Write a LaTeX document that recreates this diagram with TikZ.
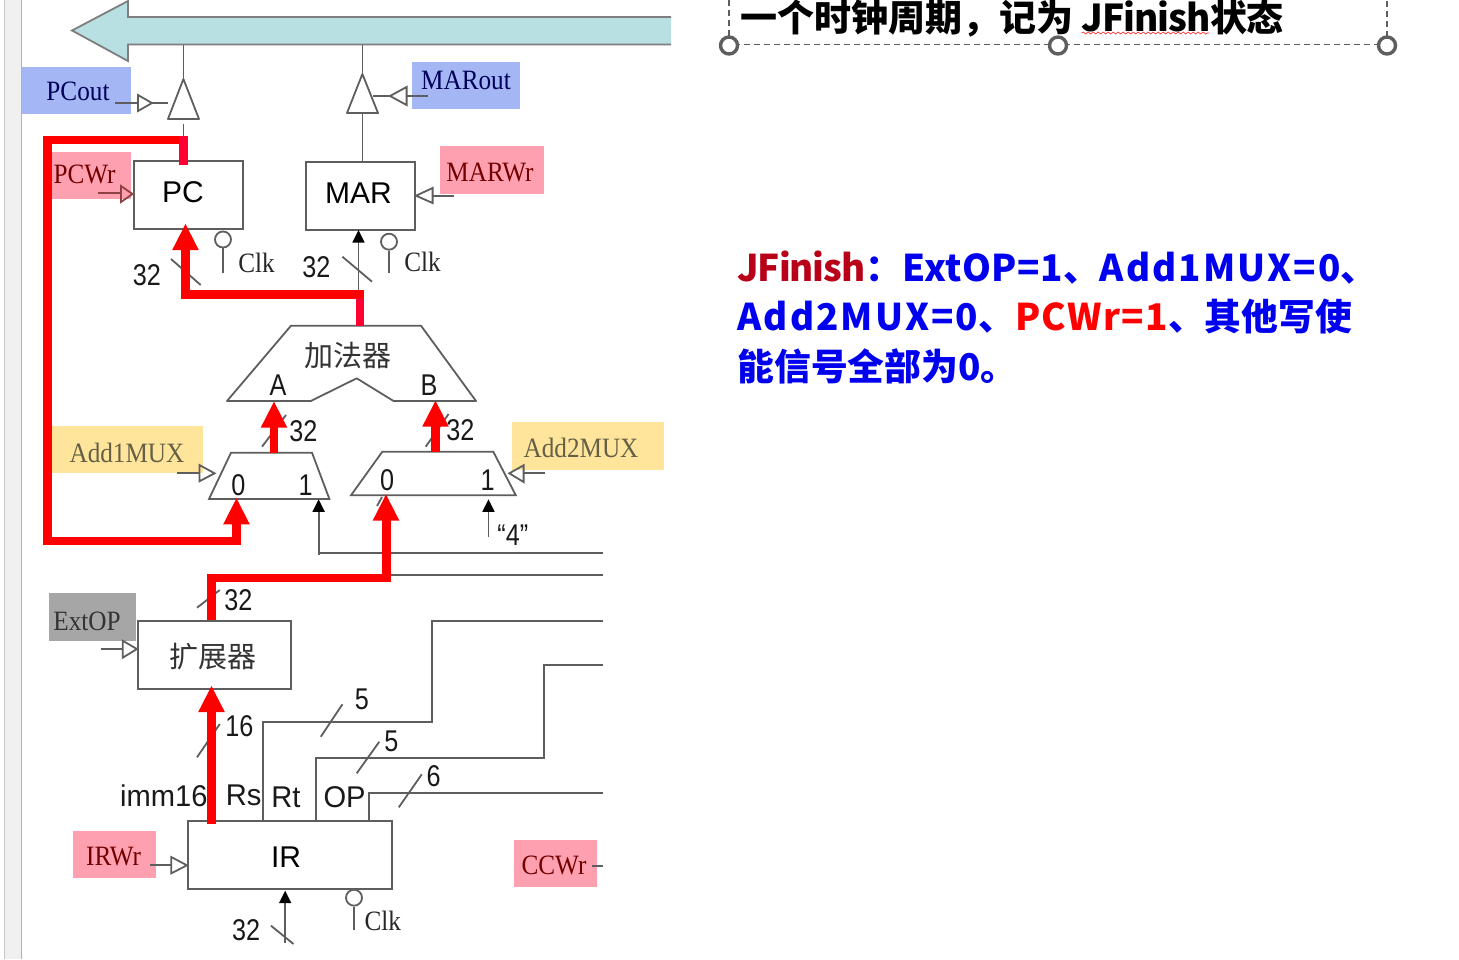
\documentclass[tikz,border=0pt]{standalone}
\usepackage{fontspec}
\setmainfont{Liberation Sans}
\newfontfamily\labelserif[FakeStretch=0.9]{Liberation Serif}
\newfontfamily\digitsans[FakeStretch=0.84]{Liberation Sans}
\newfontfamily\fieldsans[FakeStretch=0.97]{Liberation Sans}
\newfontfamily\cjk{Noto Sans CJK SC}
\usetikzlibrary{decorations.pathmorphing}
\definecolor{wire}{HTML}{5E5E5E}
\definecolor{busfill}{HTML}{B8E0E2}
\definecolor{sigblue}{HTML}{A4B7F4}
\definecolor{sigpink}{HTML}{FFA0B0}
\definecolor{sigyellow}{HTML}{FFE49C}
\definecolor{siggray}{HTML}{A6A6A6}
\definecolor{hot}{HTML}{FF0000}
\definecolor{crim}{HTML}{FF0033}
\definecolor{deepred}{HTML}{B80018}
\definecolor{bodyblue}{HTML}{0000EE}
\tikzset{
  thin wire/.style={draw=wire,line width=.9pt},
  signal/.style={thin wire},
  block/.style={draw=wire,line width=1pt,fill=white,inner sep=0pt},
  num/.style={inner sep=0pt,font=\digitsans\fontsize{15}{15}\selectfont,text=black!90},
  field/.style={inner sep=0pt,font=\fieldsans\fontsize{15}{15}\selectfont,text=black!90},
  regname/.style={inner sep=0pt,font=\fontsize{15}{15}\selectfont,text=black},
  serif/.style={inner sep=0pt,font=\labelserif\fontsize{14}{14}\selectfont},
  sigbox/.style={inner sep=0pt},
  clkring/.style={circle,draw=wire,line width=.9pt,minimum size=8pt,inner sep=0pt,fill=white},
  redpath/.style={draw=hot,line width=4.4pt,line join=miter,line cap=butt},
  crimpath/.style={draw=crim,line width=4.4pt,line cap=butt},
  grip/.style={circle,draw=wire,line width=1.7pt,fill=white,minimum size=8.5pt,inner sep=0pt},
  frame/.style={draw=wire,line width=.7pt,densely dashed},
  headline/.style={anchor=base west,inner sep=0pt,font=\cjk\bfseries\fontsize{18.5}{18.5}\selectfont},
  bodyline/.style={anchor=base west,inner sep=0pt,text=bodyblue,font=\cjk\bfseries\fontsize{18.4}{18.4}\selectfont},
}
% filled red arrow tip, tip point at #1
\newcommand{\redtip}[1]{\fill[hot] (#1) -- ++(-13.3,26) -- ++(26.6,0) -- cycle;}
% small solid black arrow tip, tip point at #1
\newcommand{\blacktip}[1]{\fill[black] (#1) -- ++(-6.2,12.5) -- ++(12.4,0) -- cycle;}
% run of text with adjusted letter spacing
\newcommand{\spaced}[2]{{\addfontfeature{LetterSpace=#1}#2}}
\begin{document}
\begin{tikzpicture}[x=.5pt,y=-.5pt]
\clip (0,0) rectangle (1459,959);
\fill[white] (0,0) rectangle (1459,959);

% slide panel edge
\fill[black!6] (4,0) rectangle (21.5,959);
\draw[black!22,line width=.5pt] (4,0) -- (4,959);
\draw[black!30,line width=.6pt] (21.5,0) -- (21.5,959);

% shared bus
\draw[fill=busfill,draw=wire!80,line width=.9pt]
  (671,17) -- (128,17) -- (128,1) -- (72,30.5) -- (128,61) -- (128,44.5) -- (671,44.5);

% signal label backgrounds
\node[sigbox,fill=sigblue,minimum width=54.7pt,minimum height=23.5pt] (pcoutbg) at (76.4,90.5) {};
\node[sigbox,fill=sigblue,minimum width=54.1pt,minimum height=23.3pt] (maroutbg) at (466,85.3) {};
\node[sigbox,fill=sigpink,minimum width=39.5pt,minimum height=23.5pt] (pcwrbg) at (91.5,175.5) {};
\node[sigbox,fill=sigpink,minimum width=52pt,minimum height=23.8pt] (marwrbg) at (492.4,169.8) {};
\node[sigbox,fill=sigyellow,minimum width=75.5pt,minimum height=23.3pt] (add1bg) at (127.5,449.3) {};
\node[sigbox,fill=sigyellow,minimum width=75.8pt,minimum height=23.8pt] (add2bg) at (587.8,445.8) {};
\node[sigbox,fill=siggray,minimum width=43.5pt,minimum height=23.7pt] (extbg) at (92.5,617) {};
\node[sigbox,fill=sigpink,minimum width=41.6pt,minimum height=23.3pt] (irwrbg) at (114.4,854.3) {};
\node[sigbox,fill=sigpink,minimum width=41.6pt,minimum height=23.3pt] (ccwrbg) at (555.2,863.3) {};

% signal label texts
\node[serif,text=blue!35!black] (pcoutlbl) at (78,91) {PCout};
\node[serif,text=blue!35!black] (maroutlbl) at (466,80) {MARout};
\node[serif,text=red!45!black] (pcwrlbl) at (84.5,174) {PCWr};
\node[serif,text=red!45!black] (marwrlbl) at (490,172) {MARWr};
\node[serif,text=yellow!30!black] (add1lbl) at (127,453) {Add1MUX};
\node[serif,text=yellow!30!black] (add2lbl) at (581,448) {Add2MUX};
\node[serif,text=black!80] (extlbl) at (87,621) {ExtOP};
\node[serif,text=red!45!black] (irwrlbl) at (113.6,857) {IRWr};
\node[serif,text=red!45!black] (ccwrlbl) at (554,865.7) {CCWr};

% registers and the sign extender
\node[block,minimum width=54.6pt,minimum height=34pt] (pc) at (188.1,194.7) {};
\node[regname] (pctxt) at (183,192) {PC};
\node[block,minimum width=54.7pt,minimum height=34.2pt] (mar) at (360.3,195.8) {};
\node[regname] (martxt) at (358.5,192.7) {MAR};
\node[block,minimum width=76.5pt,minimum height=34pt] (ext) at (214.4,655) {};
\node[inner sep=0pt,text=black!80,font=\cjk\fontsize{14.5}{14.5}\selectfont] (exttxt) at (213,656.7) {扩展器};
\node[block,minimum width=101.9pt,minimum height=34pt] (ir) at (289.9,855.3) {};
\node[regname] (irtxt) at (286,857.3) {IR};

% adder outline and the two multiplexers
\draw[thin wire,fill=white,line join=round] (227,401) coordinate (addl) -- (310.8,401) -- (356.7,378.3) -- (393.6,401)
  -- (476,401) coordinate (addr) -- (421,325.7) -- (291,325.7) -- cycle;
\node[inner sep=0pt,text=black!80,font=\cjk\fontsize{14.5}{14.5}\selectfont] (addtxt) at (348,355) {加法器};
\node[num] (aport) at (278,385) {A};
\node[num] (bport) at (429,385) {B};
\draw[thin wire,fill=white] (231,452.7) -- (312,452.7) -- (329.4,499) -- (209,499) -- cycle;
\node[num] (m1zero) at (238.4,485) {0};
\node[num] (m1one) at (305.6,485) {1};
\draw[thin wire,fill=white] (382.3,451.7) -- (493.3,451.7) -- (515.8,495.3) -- (351,495.3) -- cycle;
\node[num] (m2zero) at (387,480) {0};
\node[num] (m2one) at (487.6,480) {1};

% tri-state buffers onto the bus
\draw[thin wire,fill=white,line join=round] (183.4,79) coordinate (pcbufa) -- (199,119) -- (168,119) coordinate (pcbufl) -- cycle;
\draw[thin wire,fill=white,line join=round] (362.4,74) coordinate (marbufa) -- (378,113) -- (347,113) coordinate (marbufl) -- cycle;
\draw[signal] (183.4,44.5) -- (pcbufa);
\draw[signal] (362.4,44.5) -- (marbufa);
\draw[signal] (183.4,124) -- (183.4,137);
\draw[signal] (362.4,113) -- (mar.north -| 362.4,0);

% control inputs with open triangles
\draw[signal] (115,103) -- (138,103);
\draw[signal] (138,95) -- (152,103) -- (138,111) -- cycle;
\draw[signal] (152,103) -- (168,103);
\draw[signal] (428,96) -- (406.6,96);
\draw[signal] (406.6,87) -- (390,96) -- (406.6,105) -- cycle;
\draw[signal] (390,96) -- (372.8,96);
\draw[signal,draw=wire!70!red] (97.5,193) -- (121,193);
\draw[signal,draw=wire!70!red] (121,186) -- (pc.west |- 0,194) -- (121,202) -- cycle;
\draw[signal] (454,195.7) -- (432.6,195.7);
\draw[signal] (432.6,188) -- (mar.east |- 0,195.7) -- (432.6,203) -- cycle;
\draw[signal] (176.9,473.3) -- (199.4,473.3);
\draw[signal] (199.4,465) -- (214.6,473.3) -- (199.4,481.3) -- cycle;
\draw[signal] (545,473.3) -- (523.6,473.3);
\draw[signal] (523.6,465.3) -- (509.3,473.3) -- (523.6,482) -- cycle;
\draw[signal] (100.6,649) -- (122.7,649);
\draw[signal] (122.7,640.7) -- (ext.west |- 0,649) -- (122.7,657.7) -- cycle;
\draw[signal] (149.5,865.3) -- (171.2,865.3);
\draw[signal] (171.2,857) -- (ir.west |- 0,865.3) -- (171.2,873.3) -- cycle;
\draw[signal] (591.7,865.7) -- (602.5,865.7);

% clock inputs
\node[clkring] (clkpc) at (223,239.5) {};
\draw[signal] (clkpc.south) -- (223,272.7);
\node[serif,text=black!85] (clkpct) at (256.6,263) {Clk};
\node[clkring] (clkmar) at (389,241.7) {};
\draw[signal] (clkmar.south) -- (389,272.7);
\node[serif,text=black!85] (clkmart) at (422.6,262) {Clk};
\node[clkring] (clkir) at (354,897.7) {};
\draw[signal] (clkir.south) -- (354,930);
\node[serif,text=black!85] (clkirt) at (382.8,920.7) {Clk};

% plain data wires
\draw[signal] (358.5,294) -- (358.5,240);
\blacktip{358.5,230}
\draw[signal] (318.6,510) -- (318.6,555);
\blacktip{318.6,499.3}
\draw[signal] (318.6,552.7) -- (602.5,552.7);
\draw[signal] (390,574.7) -- (602.5,574.7);
\draw[signal] (488.5,510) -- (488.5,536.7);
\blacktip{488.5,499.3}
\draw[signal] (285.2,902) -- (285.2,943);
\blacktip{285.2,890.7}
\draw[signal] (ir.north -| 263,0) -- (263,722) -- (432.2,722) -- (432.2,621.3) -- (602.5,621.3);
\draw[signal] (ir.north -| 315.6,0) -- (315.6,758.3) -- (543.6,758.3) -- (543.6,665.3) -- (602.5,665.3);
\draw[signal] (ir.north -| 368.9,0) -- (368.9,792.7) -- (602.5,792.7);

% bus-width ticks
\draw[signal] (171,259) -- (200.7,285);
\draw[signal] (342.4,256.7) -- (372,281.7);
\draw[signal] (262,446.7) -- (286,415);
\draw[signal] (425.7,446.7) -- (448.6,414);
\draw[signal] (197,607.7) -- (219.8,590);
\draw[signal] (197,757.3) -- (219.8,724);
\draw[signal] (342.4,704.3) -- (320.8,736.7);
\draw[signal] (379.3,741.7) -- (356.7,773.3);
\draw[signal] (421.8,774.3) -- (398.8,807.3);
\draw[signal] (271,925.7) -- (293.5,944);
\draw[signal] (377,506) -- (382,497);

% width and field captions
\node[num] (w1) at (147,275) {32};
\node[num] (w2) at (316.4,266.7) {32};
\node[num] (w3) at (303.4,430.7) {32};
\node[num] (w4) at (460.3,430) {32};
\node[num] (w5) at (238.4,600) {32};
\node[num] (w6) at (239.3,726) {16};
\node[num] (w7) at (362,699) {5};
\node[num] (w8) at (391.4,741.7) {5};
\node[num] (w9) at (433.5,775.7) {6};
\node[num] (w10) at (246.2,930) {32};
\node[num] (four) at (512.8,535) {“4”};
\node[field] (f1) at (163.8,795.7) {imm16};
\node[field] (f2) at (243.6,795.7) {Rs};
\node[field] (f3) at (286,797) {Rt};
\node[field] (f4) at (344.6,797) {OP};

% highlighted active path
\draw[redpath] (236.7,524) -- (236.7,541) -- (47.7,541) -- (47.7,140) -- (187.7,140);
\draw[crimpath] (183.6,136) -- (183.6,165);
\draw[redpath] (185.5,250) -- (185.5,294.5) -- (364,294.5);
\draw[crimpath] (360,298) -- (360,326);
\redtip{185.5,224}
\draw[redpath] (274,425) -- (274,453.3);
\redtip{274,401.7}
\draw[redpath] (435.5,425) -- (435.5,451.7);
\redtip{435.5,400.7}
\redtip{236.5,498.3}
\draw[redpath] (386.4,518) -- (386.4,578) -- (211.2,578) -- (211.2,620);
\redtip{386,494.5}
\draw[redpath] (211.5,710) -- (211.5,824);
\redtip{211.5,686}

% text box selection frame
\draw[frame] (729,0) -- (729,44.7) -- (1387,44.7) -- (1387,0);
\node[grip] (g1) at (729,45.5) {};
\node[grip] (g2) at (1058,45.5) {};
\node[grip] (g3) at (1387,45.5) {};

% heading and explanation
\node[headline] (head) at (740,31) {一个时钟周期，记为 \spaced{-3}{JFinish}\spaced{-2}{状态}};
\draw[red!80,line width=.35pt,decorate,decoration={snake,segment length=2.5pt,amplitude=.5pt}] (1081.6,33) -- (1209,33);
\node[bodyline] (l1) at (737,281.5) {\textcolor{deepred}{\spaced{-3}{JFinish}}：\spaced{1.6}{ExtOP=1}、\spaced{5.7}{Add1MUX=0}、};
\node[bodyline] (l2) at (737,330.5) {\spaced{5.7}{Add2MUX=0}、\textcolor{hot}{\spaced{4}{PCWr=1}}、其他写使};
\node[bodyline] (l3) at (737,380) {能信号全部为0。};
\end{tikzpicture}
\end{document}
